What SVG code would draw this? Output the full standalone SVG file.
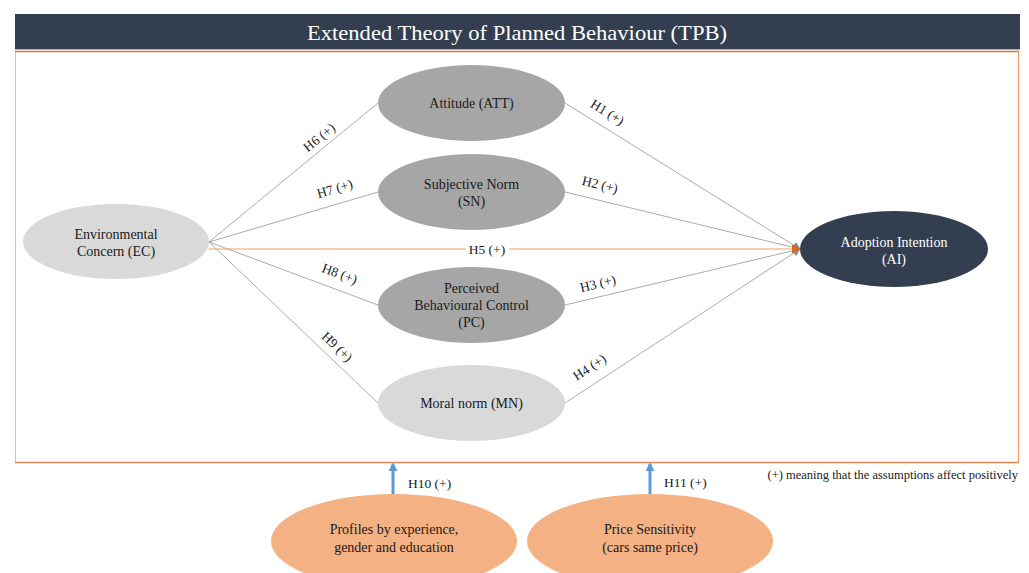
<svg xmlns="http://www.w3.org/2000/svg" width="1029" height="573" viewBox="0 0 1029 573">
<defs>
<style>
text{font-family:"Liberation Serif","Times New Roman",serif;font-size:14px;fill:#1a1a1a;}
.c{text-anchor:middle;}
.w{fill:#ffffff;}
.lbl{font-size:13.5px;}
.g{stroke:#ABABAB;stroke-width:1;fill:none;}
</style>
<marker id="ag" viewBox="0 0 10 10" refX="9" refY="5" markerWidth="8" markerHeight="8" markerUnits="userSpaceOnUse" orient="auto"><path d="M0,0L10,5L0,10z" fill="#8C8C8C"/></marker>
<marker id="ao" viewBox="0 0 10 10" refX="9" refY="5" markerWidth="9" markerHeight="9" markerUnits="userSpaceOnUse" orient="auto"><path d="M0,0L10,5L0,10z" fill="#D26A24"/></marker>
<marker id="ab" viewBox="0 0 10 10" refX="8" refY="5" markerWidth="9" markerHeight="9" markerUnits="userSpaceOnUse" orient="auto"><path d="M0,0L10,5L0,10z" fill="#5B9BD5"/></marker>
</defs>
<rect width="1029" height="573" fill="#ffffff"/>
<g id="title">
<rect x="15" y="14" width="1005" height="35" fill="#333F50"/>
<line x1="15" y1="49.5" x2="1020" y2="49.5" stroke="#AAB0B8" stroke-width="1"/>
<text x="517" y="39.5" class="c w" style="font-size:22px" textLength="420" lengthAdjust="spacingAndGlyphs">Extended Theory of Planned Behaviour (TPB)</text>
</g>
<g id="frame">
<line x1="15.5" y1="51" x2="15.5" y2="462" stroke="#EDBFA0" stroke-width="1"/>
<line x1="1018.5" y1="51" x2="1018.5" y2="462" stroke="#EE9A62" stroke-width="1.2"/>
<line x1="15" y1="51.5" x2="1019" y2="51.5" stroke="#D9773D" stroke-width="1.5"/>
<line x1="15" y1="462.5" x2="1019" y2="462.5" stroke="#E0874F" stroke-width="1.5"/>
</g>
<g id="connectors">
<line class="g" x1="209" y1="242" x2="378" y2="103"/>
<line class="g" x1="209" y1="242" x2="378" y2="192"/>
<line class="g" x1="209" y1="242" x2="378" y2="305"/>
<line class="g" x1="209" y1="242" x2="378" y2="403"/>
<line class="g" x1="565" y1="103" x2="800" y2="249" marker-end="url(#ag)"/>
<line class="g" x1="565" y1="192" x2="800" y2="249" marker-end="url(#ag)"/>
<line class="g" x1="565" y1="305" x2="800" y2="249" marker-end="url(#ag)"/>
<line class="g" x1="565" y1="403" x2="800" y2="249" marker-end="url(#ag)"/>
<line x1="209" y1="249" x2="466" y2="249" stroke="#EE9F6E" stroke-width="1.2"/>
<line x1="509" y1="249" x2="800" y2="249" stroke="#EE9F6E" stroke-width="1.2" marker-end="url(#ao)"/>
<line x1="393" y1="494" x2="393" y2="464" stroke="#5B9BD5" stroke-width="3" marker-end="url(#ab)"/>
<line x1="650" y1="494" x2="650" y2="464" stroke="#5B9BD5" stroke-width="3" marker-end="url(#ab)"/>
<text class="lbl c" x="487" y="253.5">H5 (+)</text>
<text class="lbl c" transform="translate(322,141) rotate(-39)">H6 (+)</text>
<text class="lbl c" transform="translate(336,193) rotate(-16.5)">H7 (+)</text>
<text class="lbl c" transform="translate(338,278) rotate(20.4)">H8 (+)</text>
<text class="lbl c" transform="translate(334,350) rotate(43.6)">H9 (+)</text>
<text class="lbl c" transform="translate(605,116) rotate(31.8)">H1 (+)</text>
<text class="lbl c" transform="translate(599,189) rotate(13.6)">H2 (+)</text>
<text class="lbl c" transform="translate(599,288) rotate(-13.4)">H3 (+)</text>
<text class="lbl c" transform="translate(592,371) rotate(-33.2)">H4 (+)</text>
<text class="lbl" x="408" y="487.5">H10 (+)</text>
<text class="lbl" x="664" y="486.5">H11 (+)</text>
</g>
<g id="EC">
<ellipse cx="116" cy="241.5" rx="93" ry="37.5" fill="#D9D9D9"/>
<text class="c" x="116" y="238.5">Environmental</text>
<text class="c" x="116" y="255.5">Concern (EC)</text>
</g>
<g id="ATT">
<ellipse cx="471.5" cy="103" rx="93.5" ry="38" fill="#A6A6A6"/>
<text class="c" x="471.5" y="107.5">Attitude (ATT)</text>
</g>
<g id="SN">
<ellipse cx="471.5" cy="192" rx="93.5" ry="38" fill="#A6A6A6"/>
<text class="c" x="471.5" y="188.5">Subjective Norm</text>
<text class="c" x="471.5" y="205.5">(SN)</text>
</g>
<g id="PC">
<ellipse cx="471.5" cy="305" rx="93.5" ry="38" fill="#A6A6A6"/>
<text class="c" x="471.5" y="292.5">Perceived</text>
<text class="c" x="471.5" y="309.5">Behavioural Control</text>
<text class="c" x="471.5" y="326.5">(PC)</text>
</g>
<g id="MN">
<ellipse cx="471.5" cy="403" rx="93.5" ry="38" fill="#D9D9D9"/>
<text class="c" x="471.5" y="407.5">Moral norm (MN)</text>
</g>
<g id="AI">
<ellipse cx="894" cy="249" rx="94" ry="38" fill="#333F50"/>
<text class="c w" x="894" y="246.5">Adoption Intention</text>
<text class="c w" x="894" y="263.5">(AI)</text>
</g>
<g id="PROF">
<ellipse cx="394" cy="541" rx="123" ry="47" fill="#F4B183"/>
<text class="c" x="394" y="533.5">Profiles by experience,</text>
<text class="c" x="394" y="551.5">gender and education</text>
</g>
<g id="PS">
<ellipse cx="650" cy="541" rx="123" ry="47" fill="#F4B183"/>
<text class="c" x="650" y="533.5">Price Sensitivity</text>
<text class="c" x="650" y="551.5">(cars same price)</text>
</g>
<g id="note">
<text x="1018" y="479" style="font-size:12.5px;text-anchor:end">(+) meaning that the assumptions affect positively</text>
</g>
</svg>
